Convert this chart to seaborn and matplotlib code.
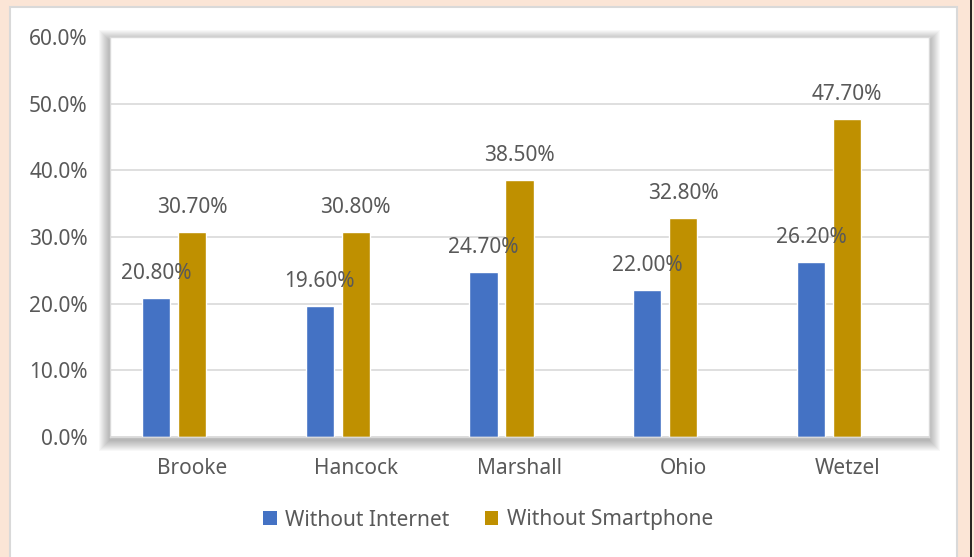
import pandas as pd
import matplotlib
matplotlib.use("Agg")
import matplotlib.pyplot as plt
import matplotlib.ticker as mticker
from matplotlib.patches import Rectangle, Patch
from matplotlib.lines import Line2D
import seaborn as sns

counties = ["Brooke", "Hancock", "Marshall", "Ohio", "Wetzel"]
without_internet = [20.8, 19.6, 24.7, 22.0, 26.2]
without_smartphone = [30.7, 30.8, 38.5, 32.8, 47.7]
series = ["Without Internet", "Without Smartphone"]
colors = ["#4472C4", "#BF9000"]

TEXT = "#595959"
GRID = "#D9D9D9"
FS = 15
W, H = 974, 557

sns.set_theme(style="white")
plt.rcParams["font.family"] = ["Noto Sans", "DejaVu Sans"]

df = pd.DataFrame({
    "county": counties * 2,
    "series": [series[0]] * 5 + [series[1]] * 5,
    "value": without_internet + without_smartphone,
})

fig = plt.figure(figsize=(W / 100, H / 100), dpi=100)
fig.patch.set_facecolor("#FBE5D6")

def px(x0, y0, x1, y1):
    # pixel box (top-left origin) -> figure fraction rect
    return (x0 / W, 1 - y1 / H, (x1 - x0) / W, (y1 - y0) / H)

# white chart area with light border
x, y, w, h = px(10, 7, 957, 560)
fig.patches.append(Rectangle((x, y), w, h, transform=fig.transFigure,
                             facecolor="white", edgecolor=GRID, lw=1.5, zorder=-3))
# page border line on the right
fig.add_artist(Line2D([970.5 / W, 970.5 / W], [0, 1], transform=fig.transFigure,
                      color="black", lw=1.2))

# plot area box
L, T, R, B = 110, 37, 929, 437
# soft shadow around the plot area, fading outwards
for k in range(1, 12):
    x, y, w, h = px(L - k, T - k + 4, R + k, B + k + 3)
    fig.patches.append(Rectangle((x, y), w, h, transform=fig.transFigure,
                                 facecolor="black", edgecolor="none",
                                 alpha=0.028, zorder=-2))

ax = fig.add_axes(px(L, T, R, B))
sns.barplot(data=df, x="county", y="value", hue="series",
            hue_order=series + ["_none"], palette=colors + ["white"],
            width=0.66, gap=0.22, ax=ax, legend=False, saturation=1)

ax.set_ylim(0, 60)
ax.yaxis.set_major_locator(mticker.MultipleLocator(10))
ax.yaxis.set_major_formatter(mticker.FuncFormatter(lambda v, _: f"{v:.1f}%"))
ax.set_xlabel("")
ax.set_ylabel("")
ax.grid(axis="y", color=GRID, lw=1.2)
ax.set_axisbelow(True)
for s in ax.spines.values():
    s.set_color(GRID)
    s.set_linewidth(1.0)
ax.tick_params(axis="both", length=0, labelsize=FS, colors=TEXT)
ax.tick_params(axis="y", pad=16)
ax.tick_params(axis="x", pad=15)

for cont in ax.containers[:2]:
    labels = [f"{b.get_height():.2f}%" for b in cont]
    ax.bar_label(cont, labels=labels, padding=10, fontsize=FS, color=TEXT)

handles = [Patch(facecolor=c, edgecolor="none") for c in colors]
fig.legend(handles, series, loc="center", bbox_to_anchor=(488 / W, 1 - 520 / H),
           ncol=2, frameon=False, fontsize=FS, labelcolor=TEXT,
           handlelength=0.65, handleheight=0.65, handletextpad=0.4,
           columnspacing=1.7)

fig.savefig("out.png", dpi=100)
